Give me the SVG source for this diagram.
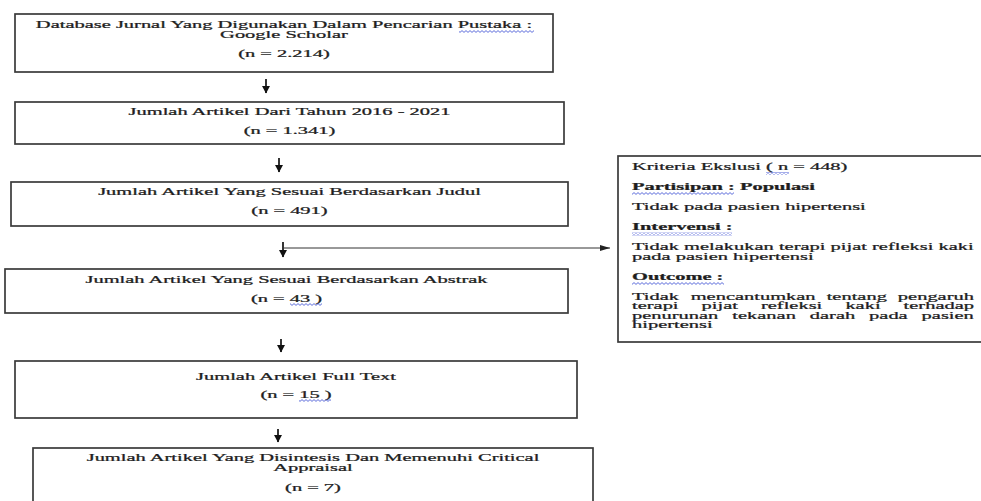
<svg xmlns="http://www.w3.org/2000/svg" width="981" height="501" viewBox="0 0 981 501">
<style>
.box{fill:#fff;stroke:#3a3a3a;stroke-width:1.7}
.t{font-family:"Liberation Serif","Times New Roman",serif;font-size:10.5px;fill:#1e1e1e;stroke:#1e1e1e;stroke-width:0.25}
.c{text-anchor:middle}
.b{font-weight:bold}
.arr{stroke:#111;stroke-width:1.7;fill:none;marker-end:url(#dn)}
.con{stroke:#333;stroke-width:1;fill:none;marker-end:url(#rt)}
.sq{fill:url(#wave)}
</style>
<defs>
<marker id="dn" markerUnits="userSpaceOnUse" markerWidth="8" markerHeight="8" refX="7" refY="4" orient="auto"><path d="M0,0 L7.5,4 L0,8 z" fill="#111"/></marker>
<marker id="rt" markerUnits="userSpaceOnUse" markerWidth="10" markerHeight="6" refX="10" refY="3" orient="auto"><path d="M0,0 L10,3 L0,6 z" fill="#222"/></marker>
<pattern id="wave" patternUnits="userSpaceOnUse" width="4" height="3"><polyline points="0,2.4 2,0.6 4,2.4" fill="none" stroke="#3448d0" stroke-width="0.8"/></pattern>
</defs>
<rect width="981" height="501" fill="#fff"/>

<g id="connectors">
<line class="arr" x1="266" y1="79" x2="266" y2="93"/>
<line class="arr" x1="279" y1="158" x2="279" y2="172"/>
<line class="arr" x1="283" y1="242" x2="283" y2="257"/>
<line class="arr" x1="281" y1="339" x2="281" y2="352"/>
<line class="arr" x1="278" y1="429" x2="278" y2="442"/>
<line class="con" x1="283" y1="248" x2="610" y2="248"/>
</g>

<g id="n1">
<rect class="box" x="15" y="14" width="538" height="58"/>
<text class="t c" transform="translate(284,27.5) scale(1.949,1)">Database Jurnal Yang Digunakan Dalam Pencarian Pustaka :</text>
<text class="t c" transform="translate(284,37.5) scale(1.949,1)">Google Scholar</text>
<text class="t c" transform="translate(284,56.5) scale(1.949,1)">(n = 2.214)</text>
<rect class="sq" x="459" y="30" width="75" height="3"/>
</g>

<g id="n2">
<rect class="box" x="15" y="102" width="549" height="42"/>
<text class="t c" transform="translate(289.5,115) scale(1.949,1)">Jumlah Artikel Dari Tahun 2016 - 2021</text>
<text class="t c" transform="translate(289.5,134) scale(1.949,1)">(n = 1.341)</text>
</g>

<g id="n3">
<rect class="box" x="11" y="182" width="557" height="44"/>
<text class="t c" transform="translate(289.5,194.5) scale(1.949,1)">Jumlah Artikel Yang Sesuai Berdasarkan Judul</text>
<text class="t c" transform="translate(289.5,213.5) scale(1.949,1)">(n = 491)</text>
</g>

<g id="n4">
<rect class="box" x="5" y="269" width="563" height="44"/>
<text class="t c" transform="translate(286.5,283) scale(1.949,1)">Jumlah Artikel Yang Sesuai Berdasarkan Abstrak</text>
<text class="t c" transform="translate(286.5,301.5) scale(1.949,1)">(n = 43 )</text>
<rect class="sq" x="290" y="303" width="32" height="3"/>
</g>

<g id="n5">
<rect class="box" x="15" y="361" width="562" height="57"/>
<text class="t c" transform="translate(296,380) scale(1.949,1)">Jumlah Artikel Full Text</text>
<text class="t c" transform="translate(296,397.5) scale(1.949,1)">(n = 15 )</text>
<rect class="sq" x="299" y="399" width="32" height="3"/>
</g>

<g id="n6">
<rect class="box" x="33" y="448" width="560" height="62"/>
<text class="t c" transform="translate(313,461) scale(1.949,1)">Jumlah Artikel Yang Disintesis Dan Memenuhi Critical</text>
<text class="t c" transform="translate(313,471) scale(1.949,1)">Appraisal</text>
<text class="t c" transform="translate(313,491) scale(1.949,1)">(n = 7)</text>
</g>

<g id="n7">
<rect class="box" x="618" y="156" width="372" height="186"/>
<text class="t" transform="translate(632,169.5) scale(1.949,1)">Kriteria Ekslusi ( n = 448)</text>
<rect class="sq" x="766" y="172" width="23" height="3"/>
<text class="t b" transform="translate(632,189.5) scale(1.949,1)">Partisipan : Populasi</text>
<rect class="sq" x="632" y="192" width="102" height="3"/>
<text class="t" transform="translate(632,209.5) scale(1.949,1)">Tidak pada pasien hipertensi</text>
<text class="t b" transform="translate(632,230) scale(1.949,1)">Intervensi :</text>
<rect class="sq" x="632" y="232.5" width="100" height="3"/>
<text class="t" transform="translate(632,250) scale(1.949,1)">Tidak melakukan terapi pijat refleksi kaki</text>
<text class="t" transform="translate(632,259.5) scale(1.949,1)">pada pasien hipertensi</text>
<text class="t b" transform="translate(632,279.5) scale(1.949,1)">Outcome :</text>
<rect class="sq" x="632" y="282" width="92" height="3"/>
<text class="t" transform="translate(632,299.5) scale(1.949,1)"><tspan x="0">Tidak</tspan><tspan x="30.12">mencantumkan</tspan><tspan x="99.89">tentang</tspan><tspan x="136.42">pengaruh</tspan></text>
<text class="t" transform="translate(632,309) scale(1.949,1)"><tspan x="0">terapi</tspan><tspan x="35.71">pijat</tspan><tspan x="66.18">refleksi</tspan><tspan x="109.49">kaki</tspan><tspan x="139.35">terhadap</tspan></text>
<text class="t" transform="translate(632,318.5) scale(1.949,1)"><tspan x="0">penurunan</tspan><tspan x="51.46">tekanan</tspan><tspan x="91.22">darah</tspan><tspan x="121.65">pada</tspan><tspan x="148.59">pasien</tspan></text>
<text class="t" transform="translate(632,328) scale(1.949,1)">hipertensi</text>
</g>
</svg>
